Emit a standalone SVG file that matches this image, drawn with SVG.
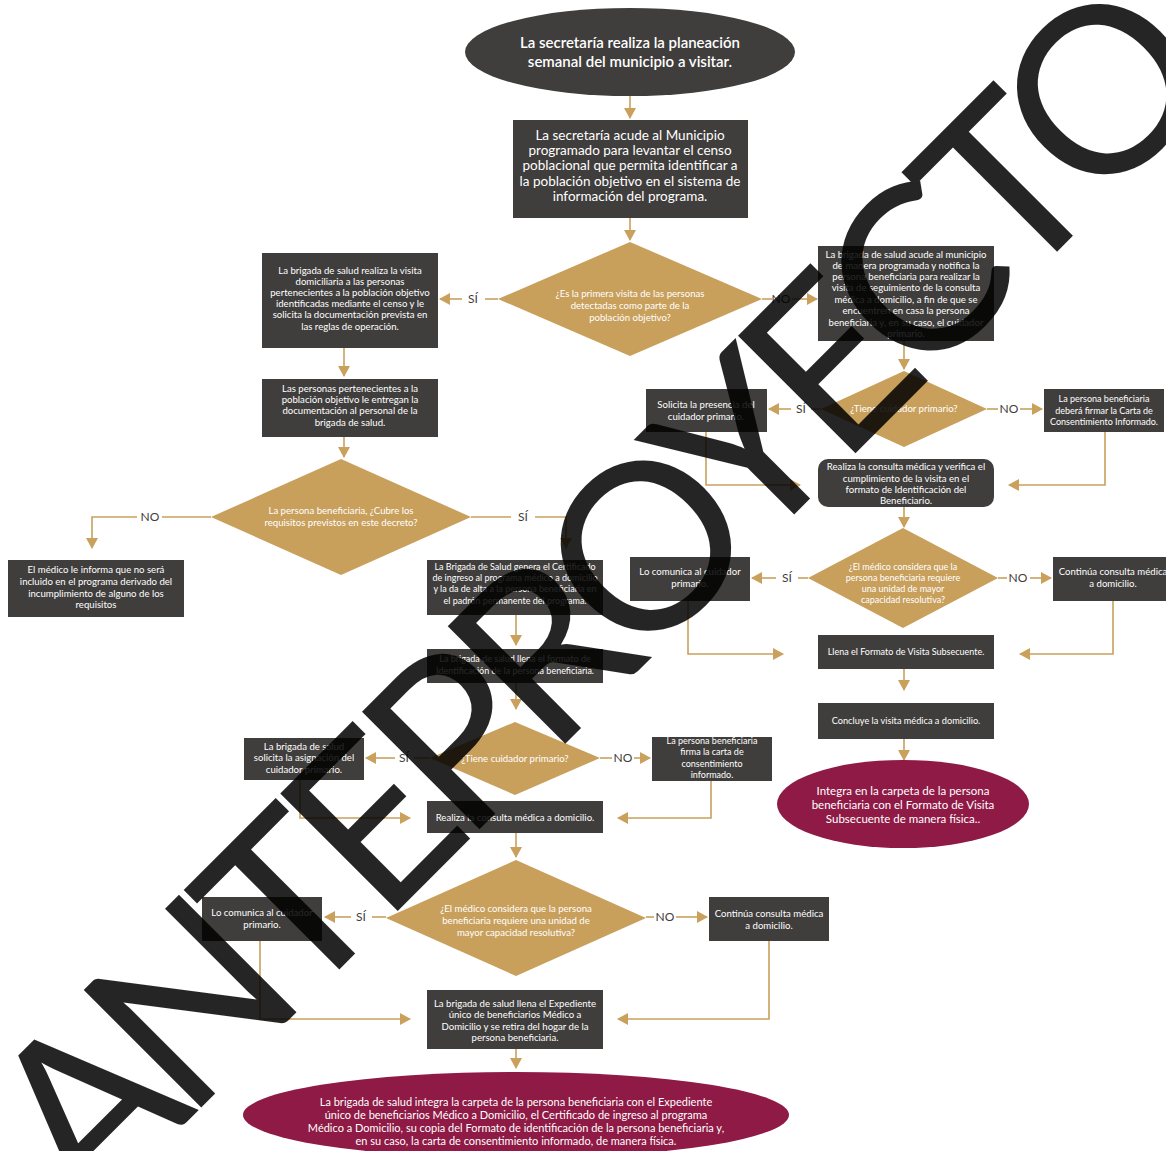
<svg xmlns="http://www.w3.org/2000/svg" width="1166" height="1151" viewBox="0 0 1166 1151">
<defs>
<marker id="ah" markerUnits="userSpaceOnUse" markerWidth="12" markerHeight="12" refX="10" refY="6" orient="auto">
<path d="M0,0 L11,6 L0,12 z" fill="#c9a15d"/>
</marker>
<style>
.box{fill:#403e3c}
.dia{fill:#c8a05c}
.ell{fill:#403e3c}
.mar{fill:#8e1a45}
.t{font-family:Lato,"Liberation Sans",sans-serif;fill:#fff;font-size:9.6px;text-anchor:middle}
.tb{font-family:Lato,"Liberation Sans",sans-serif;fill:#fff;font-size:13.5px;text-anchor:middle}
.lbl{font-family:Lato,"Liberation Sans",sans-serif;fill:#3f3d3b;font-size:12px;text-anchor:middle}
.ln{stroke:#c9a15d;stroke-width:1.6;fill:none}
.wm{font-family:Lato,"Liberation Sans",sans-serif;fill:#000;font-size:232px;opacity:0.85}
</style>
</defs>
<rect width="1166" height="1151" fill="#fff"/>

<g id="connectors">
<path class="ln" d="M630,96 V118" marker-end="url(#ah)"/>
<path class="ln" d="M630,218 V240" marker-end="url(#ah)"/>
<path class="ln" d="M498,299 H485"/>
<path class="ln" d="M462,299 H440" marker-end="url(#ah)"/>
<path class="ln" d="M762,299 H772"/>
<path class="ln" d="M792,299 H817" marker-end="url(#ah)"/>
<path class="ln" d="M344,348 V376" marker-end="url(#ah)"/>
<path class="ln" d="M344,437 V457" marker-end="url(#ah)"/>
<path class="ln" d="M211,517 H162"/>
<path class="ln" d="M137,517 H92 V548" marker-end="url(#ah)"/>
<path class="ln" d="M471,517 H511"/>
<path class="ln" d="M535,517 H566 V548" marker-end="url(#ah)"/>
<path class="ln" d="M516,615 V645" marker-end="url(#ah)"/>
<path class="ln" d="M516,683 V709" marker-end="url(#ah)"/>
<path class="ln" d="M430,758 H414"/>
<path class="ln" d="M395,758 H366" marker-end="url(#ah)"/>
<path class="ln" d="M600,758 H612"/>
<path class="ln" d="M634,758 H650" marker-end="url(#ah)"/>
<path class="ln" d="M300,780 V818 H410" marker-end="url(#ah)"/>
<path class="ln" d="M711,781 V818 H618" marker-end="url(#ah)"/>
<path class="ln" d="M516,833 V857" marker-end="url(#ah)"/>
<path class="ln" d="M386,917 H372"/>
<path class="ln" d="M351,917 H325" marker-end="url(#ah)"/>
<path class="ln" d="M646,917 H654"/>
<path class="ln" d="M676,917 H707" marker-end="url(#ah)"/>
<path class="ln" d="M260,941 V1019 H410" marker-end="url(#ah)"/>
<path class="ln" d="M769,941 V1019 H618" marker-end="url(#ah)"/>
<path class="ln" d="M516,1049 V1068" marker-end="url(#ah)"/>
<path class="ln" d="M904,341 V369" marker-end="url(#ah)"/>
<path class="ln" d="M821,409 H811"/>
<path class="ln" d="M791,409 H769" marker-end="url(#ah)"/>
<path class="ln" d="M987,409 H998"/>
<path class="ln" d="M1020,409 H1042" marker-end="url(#ah)"/>
<path class="ln" d="M706,432 V485 H800" marker-end="url(#ah)"/>
<path class="ln" d="M1105,432 V485 H1009" marker-end="url(#ah)"/>
<path class="ln" d="M904,507 V527" marker-end="url(#ah)"/>
<path class="ln" d="M808,578 H798"/>
<path class="ln" d="M776,578 H752" marker-end="url(#ah)"/>
<path class="ln" d="M998,578 H1007"/>
<path class="ln" d="M1030,578 H1051" marker-end="url(#ah)"/>
<path class="ln" d="M688,601 V654 H783" marker-end="url(#ah)"/>
<path class="ln" d="M1113,601 V654 H1020" marker-end="url(#ah)"/>
<path class="ln" d="M904,669 V690" marker-end="url(#ah)"/>
<path class="ln" d="M904,739 V760" marker-end="url(#ah)"/>
<text class="lbl" x="473" y="303">SÍ</text>
<text class="lbl" x="781" y="303">NO</text>
<text class="lbl" x="150" y="521">NO</text>
<text class="lbl" x="523" y="521">SÍ</text>
<text class="lbl" x="404" y="762">SÍ</text>
<text class="lbl" x="623" y="762">NO</text>
<text class="lbl" x="361" y="921">SÍ</text>
<text class="lbl" x="665" y="921">NO</text>
<text class="lbl" x="801" y="413">SÍ</text>
<text class="lbl" x="1009" y="413">NO</text>
<text class="lbl" x="787" y="582">SÍ</text>
<text class="lbl" x="1018" y="582">NO</text>
</g>

<g id="n1"><ellipse class="ell" cx="630" cy="52" rx="165" ry="44"/>
<text class="tb" x="630" y="48" style="font-size:15px;font-weight:600">La secretaría realiza la planeación</text>
<text class="tb" x="630" y="67" style="font-size:15px;font-weight:600">semanal del municipio a visitar.</text></g>

<g id="n2"><rect class="box" x="513" y="120" width="235" height="98"/>
<text class="tb" x="630" y="140">La secretaría acude al Municipio</text>
<text class="tb" x="630" y="155">programado para levantar el censo</text>
<text class="tb" x="630" y="170">poblacional que permita identificar a</text>
<text class="tb" x="630" y="186">la población objetivo en el sistema de</text>
<text class="tb" x="630" y="201">información del programa.</text></g>

<g id="n3"><path class="dia" d="M630,242 L762,299 L630,356 L498,299 z"/>
<text class="t" x="630" y="297">¿Es la primera visita de las personas</text>
<text class="t" x="630" y="309">detectadas como parte de la</text>
<text class="t" x="630" y="321">población objetivo?</text></g>

<g id="n4"><rect class="box" x="262" y="253" width="176" height="95"/>
<text class="t" x="350" y="274">La brigada de salud  realiza la visita</text>
<text class="t" x="350" y="285">domiciliaria a las personas</text>
<text class="t" x="350" y="296">pertenecientes a la población objetivo</text>
<text class="t" x="350" y="307">identificadas mediante el censo y le</text>
<text class="t" x="350" y="318">solicita la documentación prevista en</text>
<text class="t" x="350" y="330">las reglas de operación.</text></g>

<g id="n5"><rect class="box" x="262" y="379" width="176" height="58"/>
<text class="t" x="350" y="392">Las personas pertenecientes a la</text>
<text class="t" x="350" y="403">población objetivo le entregan la</text>
<text class="t" x="350" y="414">documentación al personal de la</text>
<text class="t" x="350" y="426">brigada de salud.</text></g>

<g id="n6"><path class="dia" d="M341,459 L471,517 L341,575 L211,517 z"/>
<text class="t" x="341" y="514">La persona beneficiaria, ¿Cubre los</text>
<text class="t" x="341" y="526">requisitos previstos en este decreto?</text></g>

<g id="n7"><rect class="box" x="8" y="560" width="176" height="57"/>
<text class="t" x="96" y="573">El médico le informa que no será</text>
<text class="t" x="96" y="585">incluido en el programa derivado del</text>
<text class="t" x="96" y="597">incumplimiento de alguno de los</text>
<text class="t" x="96" y="608">requisitos</text></g>

<g id="n8"><rect class="box" x="427" y="560" width="176" height="55"/>
<text class="t" x="515" y="570" style="font-size:9px">La Brigada de Salud genera el Certificado</text>
<text class="t" x="515" y="581" style="font-size:9px">de ingreso al programa médico a domicilio</text>
<text class="t" x="515" y="592" style="font-size:9px">y la da de alta a la persona beneficiaria en</text>
<text class="t" x="515" y="604" style="font-size:9px">el padrón permanente del programa.</text></g>

<g id="n9"><rect class="box" x="427" y="649" width="176" height="34"/>
<text class="t" x="515" y="662" style="font-size:9px">La brigada de salud llena el formato de</text>
<text class="t" x="515" y="674" style="font-size:9px">Identificación de la persona beneficiaria.</text></g>

<g id="n10"><path class="dia" d="M515,722 L600,758 L515,795 L430,758 z"/>
<text class="t" x="515" y="762">¿Tiene cuidador primario?</text></g>

<g id="n11"><rect class="box" x="244" y="738" width="120" height="42"/>
<text class="t" x="304" y="750">La brigada de salud</text>
<text class="t" x="304" y="761">solicita la asignación del</text>
<text class="t" x="304" y="773">cuidador primario.</text></g>

<g id="n12"><rect class="box" x="652" y="737" width="120" height="44"/>
<text class="t" x="712" y="744" style="font-size:9px">La persona beneficiaria</text>
<text class="t" x="712" y="755" style="font-size:9px">firma la carta de</text>
<text class="t" x="712" y="767" style="font-size:9px">consentimiento</text>
<text class="t" x="712" y="778" style="font-size:9px">informado.</text></g>

<g id="n13"><rect class="box" x="427" y="801" width="176" height="32"/>
<text class="t" x="515" y="821">Realiza la consulta médica a domicilio.</text></g>

<g id="n14"><path class="dia" d="M516,860 L646,918 L516,976 L386,918 z"/>
<text class="t" x="516" y="912">¿El médico considera que la persona</text>
<text class="t" x="516" y="924">beneficiaria requiere una unidad de</text>
<text class="t" x="516" y="936">mayor capacidad resolutiva?</text></g>

<g id="n15"><rect class="box" x="202" y="897" width="120" height="44"/>
<text class="t" x="262" y="916">Lo comunica al cuidador</text>
<text class="t" x="262" y="928">primario.</text></g>

<g id="n16"><rect class="box" x="709" y="897" width="120" height="44"/>
<text class="t" x="769" y="917">Continúa consulta médica</text>
<text class="t" x="769" y="929">a domicilio.</text></g>

<g id="n17"><rect class="box" x="427" y="990" width="176" height="59"/>
<text class="t" x="515" y="1007">La brigada de salud llena el Expediente</text>
<text class="t" x="515" y="1018">único de beneficiarios Médico a</text>
<text class="t" x="515" y="1030">Domicilio y se retira del hogar de la</text>
<text class="t" x="515" y="1041">persona beneficiaria.</text></g>

<g id="n18"><ellipse class="mar" cx="516" cy="1115" rx="273" ry="43"/>
<text class="t" x="516" y="1106" style="font-size:11px">La brigada de salud integra la carpeta de la persona beneficiaria con el Expediente</text>
<text class="t" x="516" y="1119" style="font-size:11px">único de beneficiarios Médico a Domicilio, el Certificado de ingreso al programa</text>
<text class="t" x="516" y="1132" style="font-size:11px">Médico a Domicilio, su copia del Formato de identificación de la persona beneficiaria y,</text>
<text class="t" x="516" y="1145" style="font-size:11px">en su caso, la carta de consentimiento informado, de manera física.</text></g>

<g id="n19"><rect class="box" x="818" y="246" width="176" height="95"/>
<text class="t" x="906" y="258">La brigada de salud acude al municipio</text>
<text class="t" x="906" y="269">de manera programada y notifica la</text>
<text class="t" x="906" y="280">persona beneficiaria para realizar la</text>
<text class="t" x="906" y="291">visita de seguimiento de la consulta</text>
<text class="t" x="906" y="303">médica a domicilio, a fin de que se</text>
<text class="t" x="906" y="314">encuentren en casa la persona</text>
<text class="t" x="906" y="326">beneficiaria y, en su caso, el cuidador</text>
<text class="t" x="906" y="337">primario.</text></g>

<g id="n20"><path class="dia" d="M904,371 L987,409 L904,447 L821,409 z"/>
<text class="t" x="904" y="412">¿Tiene cuidador primario?</text></g>

<g id="n21"><rect class="box" x="646" y="389" width="121" height="43"/>
<text class="t" x="706" y="408">Solicita la presencia del</text>
<text class="t" x="706" y="420">cuidador primario.</text></g>

<g id="n22"><rect class="box" x="1044" y="389" width="120" height="43"/>
<text class="t" x="1104" y="402" style="font-size:9px">La persona beneficiaria</text>
<text class="t" x="1104" y="414" style="font-size:9px">deberá firmar la Carta de</text>
<text class="t" x="1104" y="425" style="font-size:9px">Consentimiento Informado.</text></g>

<g id="n23"><rect class="box" x="818" y="459" width="176" height="48" rx="10"/>
<text class="t" x="906" y="470">Realiza la consulta médica y verifica el</text>
<text class="t" x="906" y="482">cumplimiento de la visita en el</text>
<text class="t" x="906" y="493">formato de Identificación del</text>
<text class="t" x="906" y="504">Beneficiario.</text></g>

<g id="n24"><path class="dia" d="M903,528 L998,578 L903,628 L808,578 z"/>
<text class="t" x="903" y="570" style="font-size:9px">¿El médico considera que la</text>
<text class="t" x="903" y="581" style="font-size:9px">persona beneficiaria requiere</text>
<text class="t" x="903" y="592" style="font-size:9px">una unidad de mayor</text>
<text class="t" x="903" y="603" style="font-size:9px">capacidad resolutiva?</text></g>

<g id="n25"><rect class="box" x="630" y="557" width="120" height="44"/>
<text class="t" x="690" y="575">Lo comunica al cuidador</text>
<text class="t" x="690" y="587">primario.</text></g>

<g id="n26"><rect class="box" x="1053" y="557" width="120" height="44"/>
<text class="t" x="1113" y="575">Continúa consulta médica</text>
<text class="t" x="1113" y="587">a domicilio.</text></g>

<g id="n27"><rect class="box" x="818" y="635" width="176" height="34"/>
<text class="t" x="906" y="655" style="font-size:9px">Llena el Formato de Visita Subsecuente.</text></g>

<g id="n28"><rect class="box" x="818" y="703" width="176" height="36"/>
<text class="t" x="906" y="724" style="font-size:9.2px">Concluye la visita médica a domicilio.</text></g>

<g id="n29"><ellipse class="mar" cx="903" cy="804" rx="126" ry="44"/>
<text class="t" x="903" y="795" style="font-size:11.5px">Integra en la carpeta de la persona</text>
<text class="t" x="903" y="809" style="font-size:11.5px">beneficiaria con el Formato de Visita</text>
<text class="t" x="903" y="823" style="font-size:11.5px">Subsecuente de manera física..</text></g>

<g id="watermark">
<text class="wm" transform="translate(598,592) rotate(-45)" x="-805" y="84" textLength="1610" lengthAdjust="spacing">ANTEPROYECTO</text>
</g>
</svg>
